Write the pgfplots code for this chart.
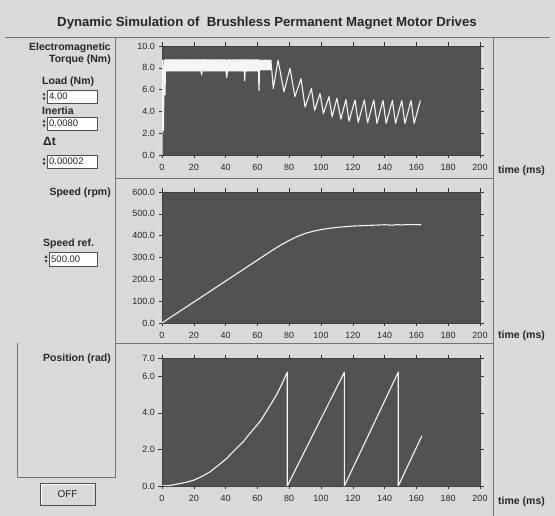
\documentclass[border=0pt]{standalone}
\usepackage{fontspec}
\setmainfont{Liberation Sans}
\usepackage{pgfplots}
\pgfplotsset{compat=1.18}
\definecolor{bg}{gray}{0.85}
\definecolor{plotbg}{gray}{0.32}
\definecolor{trace}{gray}{0.96}
\definecolor{frameline}{gray}{0.45}
\pgfplotsset{lvaxis/.style={
  scale only axis, width=318pt,
  axis background/.style={fill=plotbg},
  axis line style={draw=gray!50!black},
  xmin=0, xmax=200, xtick={0,20,...,200},
  tick align=outside, major tick length=3.5pt,
  tick style={black!80, thin},
  ticklabel style={font=\fontsize{9}{10}\selectfont, text=black!85},
  xticklabel style={yshift=-2.5pt},
  /pgf/number format/assume math mode=true,
  yticklabel style={/pgf/number format/fixed, /pgf/number format/fixed zerofill, /pgf/number format/precision=1},
  scaled y ticks=false,
}, lvtrace/.style={draw=trace, line width=1.1pt, line join=round, mark=none}}
\newcommand{\spin}[2]{%
  \fill[black!80] (#1-1.5,#2+1) -- (#1+1.5,#2+1) -- (#1,#2+4) -- cycle;
  \fill[black!80] (#1-1.5,#2-1) -- (#1+1.5,#2-1) -- (#1,#2-4) -- cycle;}
\begin{document}
\begin{tikzpicture}[x=1pt,y=1pt]
\fill[bg] (0,0) rectangle (555,516);
\useasboundingbox (0,0) rectangle (555,516);
% frame lines
\draw[frameline, thin] (115,478) -- (115,39) -- (17,39) -- (17,173);
\draw[frameline, thin] (493,478) -- (493,0);
\draw[frameline, thin] (115,338) -- (493,338);
\draw[frameline, thin] (115,173) -- (493,173);
\draw[frameline, thin] (5,479) -- (550,479);
% title
\node[font=\bfseries\fontsize{13.2}{15}\selectfont, text=black!85] at (267,493) {Dynamic Simulation of\ \ Brushless Permanent Magnet Motor Drives};
% left panel texts
\begin{scope}[every node/.style={font=\bfseries\fontsize{10.5}{12}\selectfont, text=black!85, inner sep=0pt}]
\node[anchor=east] at (111,468) {Electromagnetic};
\node[anchor=east] at (111,456) {Torque (Nm)};
\node[anchor=west] at (42,434) {Load (Nm)};
\node[anchor=west] at (42,405) {Inertia};
\node[anchor=west, font=\bfseries\fontsize{12}{13}\selectfont] at (43,375) {Δt};
\node[anchor=east] at (111,323) {Speed (rpm)};
\node[anchor=west] at (43,272) {Speed ref.};
\node[anchor=east] at (111,157) {Position (rad)};
\node[anchor=west] at (498,345) {time (ms)};
\node[anchor=west] at (498,180) {time (ms)};
\node[anchor=west] at (498,14) {time (ms)};
\end{scope}
% input boxes
\begin{scope}[every node/.style={font=\fontsize{9.5}{11}\selectfont, text=black!85, inner sep=0pt, anchor=west}]
\draw[gray!60!black, fill=white] (47,413) rectangle (97,426); \node at (49,419.5) {4.00}; \spin{44}{419.5}
\draw[gray!60!black, fill=white] (47,386) rectangle (97,399); \node at (49,392.5) {0.0080}; \spin{44}{392.5}
\draw[gray!60!black, fill=white] (47,348) rectangle (97,361); \node at (49,354.5) {0.00002}; \spin{44}{354.5}
\draw[gray!60!black, fill=white] (49,250) rectangle (97,264); \node at (51,257) {500.00}; \spin{46}{257}
\end{scope}
% OFF button
\draw[black!70, fill=bg] (40,11) rectangle (95,33);
\draw[white] (41,12) -- (41,32) -- (94,32);
\node[font=\fontsize{10}{12}\selectfont, text=black!85] at (67.5,22) {OFF};

% ---------- Torque ----------
\begin{axis}[lvaxis, at={(162pt,361pt)}, anchor=south west, height=109pt,
  ymin=0, ymax=10, ytick={0,2,...,10}]
% envelope of the fast ripple band (0-68 ms)
\addplot[fill=trace, draw=none] coordinates {
(2.3,8.75)(68.5,8.72)(68.5,7.8)(61.5,7.8)(61,5.9)(60.5,7.7)(52.5,7.7)(52,6.8)(51.5,7.7)
(41.1,7.7)(40.7,7.1)(40.3,7.7)(25.3,7.7)(25,7.35)(24.7,7.7)(2.3,7.7)
} -- cycle;
\addplot[lvtrace] coordinates {
(0,0)(0.4,8.7)(0.9,2.2)(1.4,8.7)(1.9,5.5)(2.3,8.75)
(2.5,7.7)(3,8.75)(3.5,7.7)(4,8.75)(4.5,7.7)(5,8.75)(5.5,7.7)(6,8.75)(6.5,7.7)(7,8.75)
(7.5,7.7)(8,8.75)(8.5,7.7)(9,8.75)(9.5,7.7)(10,8.75)(10.5,7.7)(11,8.75)(11.5,7.7)(12,8.75)
(12.5,7.7)(13,8.75)(13.5,7.7)(14,8.75)(14.5,7.7)(15,8.75)(15.5,7.7)(16,8.75)(16.5,7.7)(17,8.75)
(17.5,7.7)(18,8.75)(18.5,7.7)(19,8.75)(19.5,7.7)(20,8.75)(20.5,7.7)(21,8.75)(21.5,7.7)(22,8.75)
(22.5,7.7)(23,8.75)(23.5,7.7)(24,8.75)(24.5,7.7)(25,7.35)(25.3,8.75)(25.5,7.7)(26,8.75)
(26.5,7.7)(27,8.75)(27.5,7.7)(28,8.75)(28.5,7.7)(29,8.75)(29.5,7.7)(30,8.75)(30.5,7.7)(31,8.75)
(31.5,7.7)(32,8.75)(32.5,7.7)(33,8.75)(33.5,7.7)(34,8.75)(34.5,7.7)(35,8.75)(35.5,7.7)(36,8.75)
(36.5,7.7)(37,8.75)(37.5,7.7)(38,8.75)(38.5,7.7)(39,8.75)(39.5,7.7)(40,8.75)
(40.3,7.6)(40.7,7.1)(41.1,7.6)(41.5,8.75)(42,7.7)(42.5,8.75)(43,7.7)(43.5,8.75)(44,7.7)(44.5,8.75)
(45,7.7)(45.5,8.75)(46,7.7)(46.5,8.75)(47,7.7)(47.5,8.75)(48,7.7)(48.5,8.75)(49,7.7)(49.5,8.75)
(50,7.7)(50.5,8.75)(51,7.7)(51.5,8.75)(52,6.8)(52.5,8.75)(53,7.7)(53.5,8.75)(54,7.7)(54.5,8.75)
(55,7.7)(55.5,8.75)(56,7.7)(56.5,8.75)(57,7.7)(57.5,8.75)(58,7.7)(58.5,8.75)(59,7.7)(59.5,8.75)
(60,7.7)(60.5,8.75)(61,5.9)(61.5,8.7)(62,7.8)(62.5,8.7)(63,7.8)(63.5,8.7)(64,7.8)(64.5,8.7)
(65,7.8)(65.5,8.7)(66,7.8)(66.5,8.7)(67,7.8)(67.5,8.7)(68,7.8)(68.5,8.7)
(70,6.1)(73,8.7)(76.7,5.8)(80.5,7.95)(83.6,5.35)(87.4,7.0)(90,4.4)(94,6.1)(96,4.1)(99.4,5.65)
(101.5,3.8)(105,5.35)(107,3.5)(110,5.2)(112.5,3.3)(115.7,5.1)(117.6,3.1)(121.4,5.05)(123.4,3.0)
(127.3,5.05)(129.3,2.95)(133.2,5.05)(135.2,2.9)(139.0,5.0)(141.0,2.9)(144.9,5.0)(146.9,2.9)
(150.8,5.0)(152.8,2.9)(156.6,5.0)(158.6,2.9)(162.5,5.0)
};
\end{axis}

% ---------- Speed ----------
\begin{axis}[lvaxis, at={(162pt,193pt)}, anchor=south west, height=131pt,
  ymin=0, ymax=600, ytick={0,100,...,600}]
\addplot[lvtrace] coordinates {
(0,0)(20,96)(40,192)(60,288)(70,336)(75,358)(80,378)(85,396)(90,410)(95,420)(100,428)
(105,433)(110,438)(120,444)(130,447)(140,450)(145,448)(148,451)(150,449)(155,451)(163,450)
};
\end{axis}

% ---------- Position ----------
\begin{axis}[lvaxis, at={(162pt,30pt)}, anchor=south west, height=128pt,
  ymin=0, ymax=7, ytick={0,2,4,6,7}]
\addplot[lvtrace] coordinates {
(0,0)(5,0.03)(9.2,0.1)(15,0.2)(19.7,0.31)(25,0.52)(30.2,0.77)(35,1.1)(40.6,1.5)(45,1.9)
(51.1,2.42)(55,2.85)(61.6,3.52)(65,3.98)(72,4.98)(75,5.5)(78.8,6.23)(78.8,0)
(114.7,6.23)(114.7,0)(148.6,6.23)(148.6,0)(163.5,2.75)
};
\end{axis}
\end{tikzpicture}
\end{document}
